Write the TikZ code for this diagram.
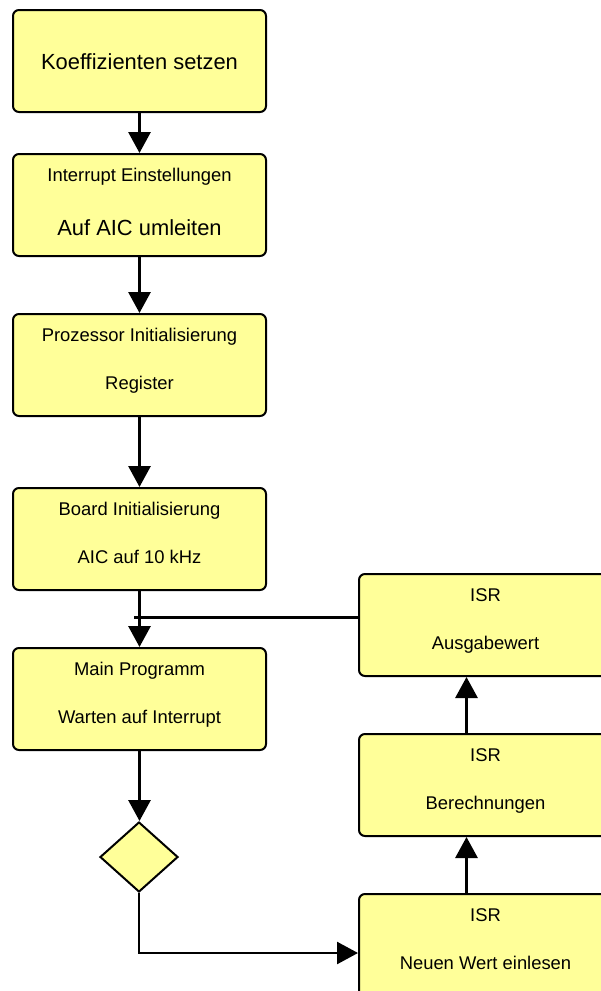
\documentclass[tikz,border=0pt]{standalone}
\usepackage{fontspec}
\setmainfont{Liberation Sans}
\usetikzlibrary{arrows.meta,shapes.geometric}
\definecolor{boxfill}{RGB}{255,255,153}
\begin{document}
\begin{tikzpicture}[x=1pt,y=-1pt,
  box/.style={draw=black, line width=2pt, fill=boxfill, rounded corners=6pt,
    minimum width=253pt, minimum height=102pt, inner sep=0pt, anchor=north west},
  small/.style={font=\fontsize{18.4}{22}\selectfont, anchor=base, inner sep=0pt},
  large/.style={font=\fontsize{21.9}{26}\selectfont, anchor=base, inner sep=0pt},
  conn/.style={line width=3pt, -{Triangle[length=21pt,width=22pt]}},
  plainline/.style={line width=3pt}]
\path[use as bounding box] (0,0) rectangle (601,991);
\clip (0,0) rectangle (601,991);

% left column
\node[box] (b1) at (12,9) {};
\node[large] (b1a) at ([yshift=-60.8pt]b1.north) {Koeffizienten setzen};

\node[box] (b2) at (12,153) {};
\node[small] (b2a) at ([yshift=-28.6pt]b2.north) {Interrupt Einstellungen};
\node[large] (b2b) at ([yshift=-82.8pt]b2.north) {Auf AIC umleiten};

\node[box] (b3) at (12,313) {};
\node[small] (b3a) at ([yshift=-28.6pt]b3.north) {Prozessor Initialisierung};
\node[small] (b3b) at ([yshift=-76.6pt]b3.north) {Register};

\node[box] (b4) at (12,487) {};
\node[small] (b4a) at ([yshift=-28.6pt]b4.north) {Board Initialisierung};
\node[small] (b4b) at ([yshift=-76.6pt]b4.north) {AIC auf 10 kHz};

\node[box] (mn) at (12,647) {};
\node[small] (mna) at ([yshift=-28.6pt]mn.north) {Main Programm};
\node[small] (mnb) at ([yshift=-76.6pt]mn.north) {Warten auf Interrupt};

\node[draw=black, line width=2pt, fill=boxfill, diamond, minimum width=78pt,
  minimum height=70pt, inner sep=0pt] (d) at (139,857) {};

% right column
\node[box] (i1) at (358,573) {};
\node[small] (i1a) at ([yshift=-28.6pt]i1.north) {ISR};
\node[small] (i1b) at ([yshift=-76.6pt]i1.north) {Ausgabewert};

\node[box] (i2) at (358,733) {};
\node[small] (i2a) at ([yshift=-28.6pt]i2.north) {ISR};
\node[small] (i2b) at ([yshift=-76.6pt]i2.north) {Berechnungen};

\node[box] (i3) at (358,893) {};
\node[small] (i3a) at ([yshift=-28.6pt]i3.north) {ISR};
\node[small] (i3b) at ([yshift=-76.6pt]i3.north) {Neuen Wert einlesen};

% connectors
\draw[conn] (b1.south) -- (b2.north);
\draw[conn] (b2.south) -- (b3.north);
\draw[conn] (b3.south) -- (b4.north);
\draw[conn] (b4.south) -- (mn.north);
\draw[conn] (mn.south) -- (mn.south |- d.north);
\coordinate (j) at (134,617);
\draw[plainline] (j) -- (j -| i1.west);
\coordinate (lowy) at (0,953);
\draw[line width=2.5pt, -{Triangle[length=21pt,width=22pt]}] (d.south) |- (i3.west |- lowy);
\draw[conn] ([xshift=-19pt]i3.north) -- ([xshift=-19pt]i2.south);
\draw[conn] ([xshift=-19pt]i2.north) -- ([xshift=-19pt]i1.south);
\end{tikzpicture}
\end{document}
